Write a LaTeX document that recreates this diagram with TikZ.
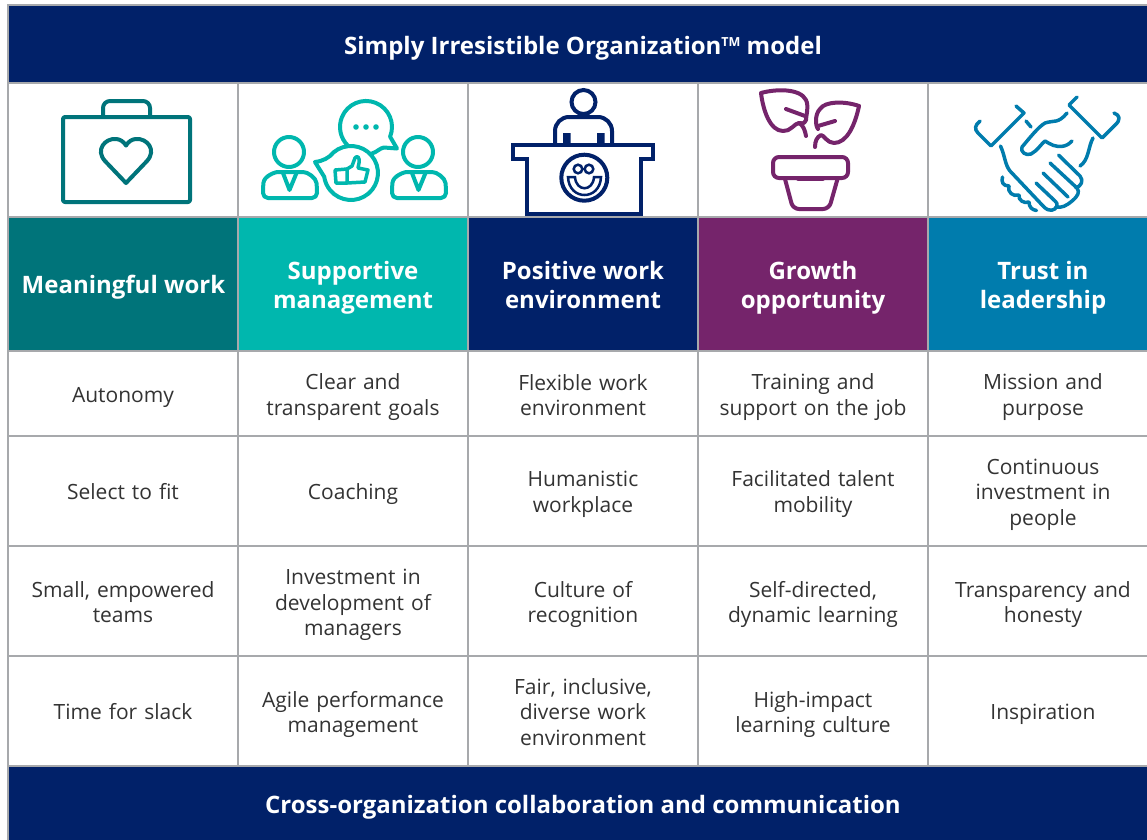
\documentclass[tikz,border=0pt]{standalone}
\usepackage{fontspec}
\setmainfont{Open Sans}
\definecolor{navy}{HTML}{012169}
\definecolor{teal1}{HTML}{00747A}
\definecolor{teal2}{HTML}{00B7AE}
\definecolor{plum}{HTML}{75246B}
\definecolor{blue1}{HTML}{007CAD}
\definecolor{gridc}{HTML}{A7A9AC}
\tikzset{
 cell/.style={draw=gridc,line width=2pt,fill=white},
 body/.style={text=black!80,align=center,font=\fontsize{21}{25.6}\selectfont,text width=226pt,anchor=center,inner sep=0pt},
 band/.style={text=white,align=center,font=\fontsize{24}{29}\selectfont\bfseries,anchor=center,inner sep=0pt},
 ico/.style={line width=4pt,line cap=round,line join=round},
}
\begin{document}
\begin{tikzpicture}[x=1pt,y=-1pt]
\useasboundingbox (0,0) rectangle (1147,839);
\fill[white] (0,0) rectangle (1147,839);
% bands
\draw[gridc,line width=2pt,fill=navy] (8,5) rectangle (1160,83);
\draw[gridc,line width=2pt,fill=navy] (8,766) rectangle (1160,850);
\node[band] (title) at (583,48.5) {Simply Irresistible Organization\raisebox{8.5pt}{\fontsize{12.5}{12.5}\selectfont TM} model};
\node[band] (foot) at (583,807) {Cross-organization collaboration and communication};
% icon row and body cells
\foreach \a/\b in {8/238,238/468,468/698,698/928,928/1160}{
 \draw[cell] (\a,83) rectangle (\b,217);
 \draw[cell] (\a,351) rectangle (\b,436);
 \draw[cell] (\a,436) rectangle (\b,546);
 \draw[cell] (\a,546) rectangle (\b,656);
 \draw[cell] (\a,656) rectangle (\b,766);
}
% header colours
\fill[teal1] (8,217) rectangle (238,351);
\fill[teal2] (238,217) rectangle (468,351);
\fill[navy] (468,217) rectangle (698,351);
\fill[plum] (698,217) rectangle (928,351);
\fill[blue1] (928,217) rectangle (1147,351);
\foreach \x in {8,238,468,698,928} \draw[gridc,line width=1.5pt] (\x,217) -- (\x,351);
\draw[gridc,line width=2pt] (8,217) -- (1147,217) (8,351) -- (1147,351);
\draw[gridc,line width=2pt] (8,766) -- (1147,766);
\node[band] (h1) at (123.5,287) {Meaningful work};
\node[band] (h2) at (353,288) {Supportive\\management};
\node[band] (h3) at (583,285) {Positive work\\environment};
\node[band] (h4) at (813,288) {Growth\\opportunity};
\node[band] (h5) at (1043,288) {Trust in\\leadership};
% body
\node[body] (a1) at (123,397.5) {Autonomy};
\node[body] (b1) at (353,397) {Clear and\\transparent goals};
\node[body] (c1) at (583,395) {Flexible work\\environment};
\node[body] (d1) at (813,397) {Training and\\support on the job};
\node[body] (e1) at (1043,397) {Mission and\\purpose};
\node[body] (a2) at (123,491.5) {Select to fit};
\node[body] (b2) at (353,494) {Coaching};
\node[body] (c2) at (583,494.5) {Humanistic\\workplace};
\node[body] (d2) at (813,494) {Facilitated talent\\mobility};
\node[body] (e2) at (1043,494.5) {Continuous\\investment in\\people};
\node[body] (a3) at (123,602) {Small, empowered\\teams};
\node[body] (b3) at (353,605) {Investment in\\development of\\managers};
\node[body] (c3) at (583,604.5) {Culture of\\recognition};
\node[body] (d3) at (813,604.5) {Self-directed,\\dynamic learning};
\node[body] (e3) at (1043,604.5) {Transparency and\\honesty};
\node[body] (a4) at (123,712) {Time for slack};
\node[body] (b4) at (353,714.5) {Agile performance\\management};
\node[body] (c4) at (583,712) {Fair, inclusive,\\diverse work\\environment};
\node[body] (d4) at (813,714.5) {High-impact\\learning culture};
\node[body] (e4) at (1043,714.5) {Inspiration};
% icon 1: briefcase
\begin{scope}[ico,draw=teal1]
\draw[rounded corners=2pt] (63,117) rectangle (190,202);
\draw[rounded corners=7pt] (103,116) -- (103,101) -- (150,101) -- (150,116);
\draw (126,183) -- (105,161) .. controls (95,150) and (105,138) .. (116,139) .. controls (120,139) and (124,142) .. (126,145.5) .. controls (128,142) and (132,139) .. (136,139) .. controls (147,138) and (157,150) .. (147,161) -- cycle;
\end{scope}
% icon 2: people and bubbles
\begin{scope}[ico,draw=teal2]
\draw (289,152) circle (15);
\draw[rounded corners=5pt] (263,198) -- (263,188) .. controls (264,176) and (275,172) .. (283,172) -- (298,172) .. controls (308,172) and (316,178) .. (317,188) -- (317,198) -- cycle;
\draw (283,173) -- (289.5,190) -- (296.5,173);
\draw (418,152) circle (15);
\draw[rounded corners=5pt] (392,198) -- (392,188) .. controls (393,176) and (404,172) .. (412,172) -- (427,172) .. controls (437,172) and (445,178) .. (446,188) -- (446,198) -- cycle;
\draw (412,173) -- (418.5,190) -- (425.5,173);
\draw (372,153.5) .. controls (377,152) and (380,148) .. (384,147.5) -- (397,148.5) -- (390.1,136.7) arc[start angle=-22,end angle=226,radius=26pt];
\fill[teal2,draw=none] (356,127) circle (2.8) (366,127) circle (2.8) (376,127) circle (2.8);
\draw (315,162) .. controls (323,161) and (329,158) .. (333.6,152.3) arc[start angle=130,end angle=-172,radius=27pt] -- cycle;
\draw[line width=3.5pt] (335,170) -- (347,169) -- (347,183) -- (336,183) -- cycle;
\draw[line width=3.5pt] (347,169) -- (352,166) -- (355,158) .. controls (357,155) and (360,157) .. (359,163) -- (358,168) -- (368,170) -- (365,182) -- (347,183);
\end{scope}
% icon 3: reception desk
\begin{scope}[ico,draw=navy,line cap=butt,line join=miter]
\draw (583.5,102) circle (12);
\draw[rounded corners=14pt] (555,145) -- (555,117) -- (612,117) -- (612,145);
\fill[navy,draw=none] (563,133) rectangle (570.5,145) (597,133) rectangle (604.5,145);
\draw (512.5,145) -- (653,145) -- (653,159) -- (641,159) -- (641,213.5) -- (526.5,213.5) -- (526.5,159) -- (512.5,159) -- cycle;
\draw (584.3,177.7) circle (23);
\draw[line width=2.5pt] (578,169) circle (4.3) (589,169) circle (4.3);
\draw[line width=2.5pt] (568,177) .. controls (569,201) and (600,201) .. (601,177) -- (594,177) .. controls (593,192) and (576,192) .. (575,177) -- cycle;
\end{scope}
% icon 4: plant
\begin{scope}[ico,draw=plum]
\draw[rounded corners=6pt] (773,157) -- (848,157) -- (848,178) -- (773,178) -- cycle;
\draw[rounded corners=6pt] (785,179) -- (793,209) -- (829,209) -- (837.5,179);
\draw (798,178.5) -- (823,178.5);
\draw (761,93) .. controls (775,89) and (800,88) .. (806,100) .. controls (809,106) and (806,116) .. (806,120) .. controls (804,124) and (802,124) .. (799,123) .. controls (795,123) and (790,132) .. (783,131) .. controls (770,131) and (763,110) .. (761,93);
\draw (786,109) -- (805,116);
\draw (799,123) .. controls (803,125) and (805,130) .. (806,136);
\draw (859,106) .. controls (845,101) and (825,101) .. (820,109) .. controls (815,114) and (815,125) .. (818,129);
\draw (859,106) .. controls (855,125) and (847,143) .. (834,143) .. controls (827,143) and (824,135) .. (821,135) .. controls (817,137) and (815,141) .. (815,147);
\draw (818,126) -- (835,121);
\end{scope}
% icon 5: handshake
\begin{scope}[ico,draw=blue1,line width=3.5pt]
\draw (1016,106) -- (1024,113) -- (991,146) -- (978,133) .. controls (974,129) and (975,125) .. (980,121);
\draw (1026,121) -- (1031,127);
\draw (1077,97) -- (1069,105) -- (1102,138) -- (1115,125) .. controls (1121,120) and (1120,115) .. (1114,113);
\draw (1067,113) .. controls (1058,124) and (1054,120) .. (1045,123) .. controls (1038,127) and (1028,140) .. (1022,147) .. controls (1020,152) and (1026,156) .. (1031,154) .. controls (1037,151) and (1042,143) .. (1045,141) .. controls (1050,144) and (1056,148) .. (1064,146) .. controls (1068,145) and (1070,143) .. (1072,141);
\draw (1000.5,146) .. controls (1005,156) and (1005,165) .. (1010,171) -- (1044,207) .. controls (1049,212) and (1055,211) .. (1057,206) .. controls (1058,204) and (1056,202) .. (1055,201) -- (1036,183);
\draw (1043,173) -- (1068,197);
\draw (1056,207) .. controls (1062,208) and (1066,206) .. (1072,201) .. controls (1078,196) and (1080,192) .. (1077,188) -- (1050,163);
\draw (1076,188) .. controls (1081,186) and (1084,181) .. (1080,176) -- (1058.5,155);
\draw (1093,138) .. controls (1088,147) and (1089,160) .. (1080,166);
\draw (1002.5,177) .. controls (1001,182) and (1003,186) .. (1009,186) .. controls (1007,192) and (1013,197) .. (1019,195) .. controls (1018,200) and (1024,204) .. (1029,202) .. controls (1029,207) and (1032,210) .. (1036.5,210.5);
\end{scope}
\end{tikzpicture}
\end{document}
